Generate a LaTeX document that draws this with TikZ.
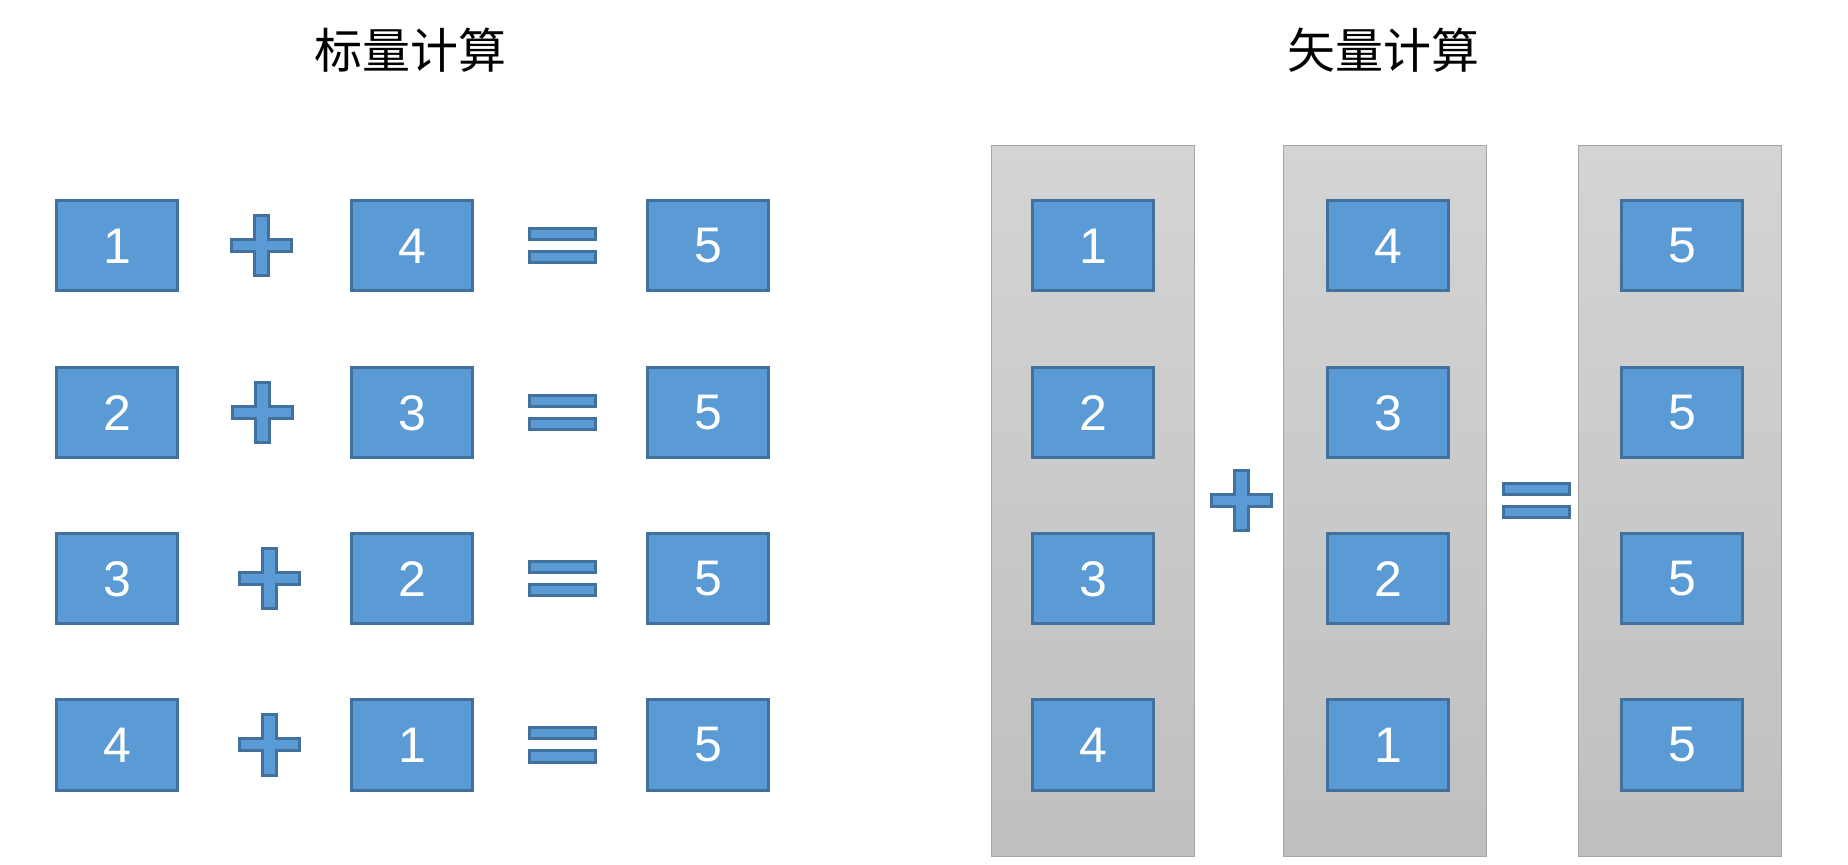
\documentclass[tikz,border=0pt]{standalone}
\usepackage{fontspec}
\setmainfont{Liberation Sans}
\newfontfamily\cjk{Noto Sans CJK SC}
\definecolor{boxfill}{HTML}{5B9BD5}
\definecolor{boxline}{HTML}{41719C}
\definecolor{bartop}{HTML}{D4D4D4}
\definecolor{barbottom}{HTML}{BFBFBF}
\definecolor{barline}{HTML}{A6A6A6}

\begin{document}
\begin{tikzpicture}[x=0.5pt,y=-0.5pt,
  numbox/.style={draw=boxline,fill=boxfill,line width=1.5pt,minimum width=60.5pt,minimum height=45pt,inner sep=0pt,text=white,font=\fontsize{25}{29}\selectfont},
  opsign/.style={draw=boxline,fill=boxfill,line width=1.5pt},
  vecbar/.style={draw=barline,line width=0.5pt,top color=bartop,bottom color=barbottom,minimum width=101.5pt,minimum height=355pt,inner sep=0pt},
  title/.style={font=\cjk\fontsize{24}{28}\selectfont},
  plusmark/.pic={\filldraw[opsign] (-7,-30) -- (7,-30) -- (7,-6) -- (30,-6) -- (30,6) -- (7,6) -- (7,30) -- (-7,30) -- (-7,6) -- (-30,6) -- (-30,-6) -- (-7,-6) -- cycle;},
  equalmark/.pic={\filldraw[opsign] (-33,-17) rectangle (33,-6) (-33,6) rectangle (33,17);}]
\useasboundingbox (0,0) rectangle (1848,865);

% titles
\node[title] (scalar) at (410,50) {标量计算};
\node[title] (vector) at (1383,50) {矢量计算};

% scalar: one sum per row
\foreach \r/\y/\a/\b/\px in {1/246/1/4/261, 2/413/2/3/262, 3/579/3/2/269, 4/745/4/1/269} {
  \node[numbox] (sa\r) at (117,\y) {\a};
  \node[numbox] (sb\r) at (412,\y) {\b};
  \node[numbox] (sc\r) at (708,\y) {5};
  \pic at (\px,\y) {plusmark};
  \pic at (562,\y) {equalmark};
}

% vector: three columns
\node[vecbar] (va) at (1093,501) {};
\node[vecbar] (vb) at (1385,501) {};
\node[vecbar] (vc) at (1680,501) {};
\foreach \r/\y/\a/\b in {1/246/1/4, 2/413/2/3, 3/579/3/2, 4/745/4/1} {
  \node[numbox] (va\r) at (1093,\y) {\a};
  \node[numbox] (vb\r) at (1388,\y) {\b};
  \node[numbox] (vc\r) at (1682,\y) {5};
}
\pic at (1241,501) {plusmark};
\pic at (1536,501) {equalmark};
\end{tikzpicture}
\end{document}
